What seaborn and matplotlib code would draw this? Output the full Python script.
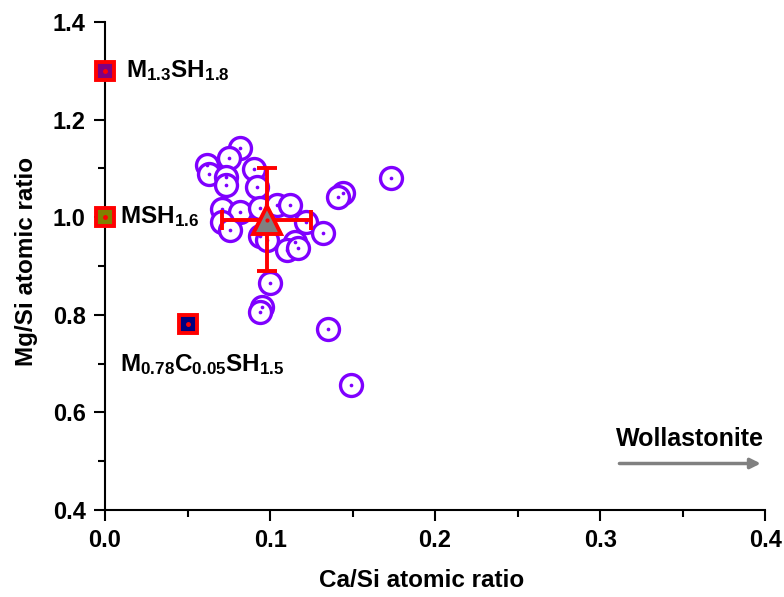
import matplotlib
matplotlib.use("Agg")
import matplotlib.pyplot as plt
import seaborn as sns
import pandas as pd

# ---- data ----
ca_si = [0.082, 0.075, 0.062, 0.063, 0.073, 0.073, 0.090, 0.092, 0.144, 0.141,
         0.173, 0.071, 0.082, 0.071, 0.076, 0.094, 0.104, 0.112, 0.122, 0.132,
         0.094, 0.098, 0.115, 0.110, 0.117, 0.100, 0.095, 0.094, 0.135, 0.149]
mg_si = [1.141, 1.122, 1.106, 1.089, 1.083, 1.067, 1.098, 1.061, 1.050, 1.042,
         1.081, 1.017, 1.011, 0.991, 0.974, 1.019, 1.024, 1.024, 0.991, 0.968,
         0.962, 0.954, 0.950, 0.933, 0.937, 0.866, 0.816, 0.806, 0.771, 0.656]

mean_ca, mean_mg = 0.098, 0.995
err_ca, err_mg = 0.027, 0.105

ref_names = [r"M$_{1.3}$SH$_{1.8}$", r"MSH$_{1.6}$", r"M$_{0.78}$C$_{0.05}$SH$_{1.5}$"]
ref_ca = [0.0, 0.0, 0.05]
ref_mg = [1.30, 1.00, 0.78]
ref_colors = ["#800080", "#808000", "#000080"]
label_pos = [(0.0125, 1.288), (0.009, 0.987), (0.009, 0.685)]

x_label = "Ca/Si atomic ratio"
y_label = "Mg/Si atomic ratio"
x_ticks = [0.0, 0.1, 0.2, 0.3, 0.4]
y_ticks = [0.4, 0.6, 0.8, 1.0, 1.2, 1.4]

# ---- style ----
sns.set_style("ticks")
plt.rcParams["font.family"] = ["Liberation Sans", "DejaVu Sans"]
plt.rcParams["font.weight"] = "bold"
plt.rcParams["text.color"] = "black"
plt.rcParams["axes.labelcolor"] = "black"
plt.rcParams["xtick.color"] = "black"
plt.rcParams["ytick.color"] = "black"
plt.rcParams["mathtext.fontset"] = "custom"
plt.rcParams["mathtext.rm"] = "Liberation Sans:bold"
plt.rcParams["mathtext.it"] = "Liberation Sans:bold"
plt.rcParams["mathtext.bf"] = "Liberation Sans:bold"

fig = plt.figure(figsize=(7.84, 5.97), dpi=100)
ax = fig.add_axes([0.134, 0.146, 0.842, 0.817])

purple = "#7F00FF"
df = pd.DataFrame({"ca": ca_si, "mg": mg_si})
sns.scatterplot(data=df, x="ca", y="mg", ax=ax, s=250, marker="o",
                facecolor="white", edgecolor=purple, linewidth=2.4, zorder=3)
sns.scatterplot(data=df, x="ca", y="mg", ax=ax, s=7, marker="o",
                color=purple, edgecolor=purple, linewidth=0, zorder=4)

# mean with error bars
ax.errorbar([mean_ca], [mean_mg], xerr=[err_ca], yerr=[err_mg], fmt="none",
            ecolor="red", elinewidth=2.8, capsize=7, capthick=2.8, zorder=5)
ax.plot([mean_ca], [mean_mg], marker="^", ms=20, mfc="#808080", mec="red",
        mew=2.8, linestyle="none", zorder=6)
ax.plot([mean_ca], [mean_mg], marker="o", ms=2, color="red", linestyle="none", zorder=7)

# reference phases
for cx, cy, col, name, (lx, ly) in zip(ref_ca, ref_mg, ref_colors, ref_names, label_pos):
    ax.plot([cx], [cy], marker="s", ms=13, mfc=col, mec="red", mew=2.8,
            linestyle="none", clip_on=False, zorder=6)
    ax.plot([cx], [cy], marker="o", ms=2.5, color="red", linestyle="none",
            clip_on=False, zorder=7)
    ax.text(lx, ly, name, fontsize=17.5, fontweight="bold", ha="left", va="baseline")

# wollastonite arrow
ax.annotate("", xy=(0.399, 0.495), xytext=(0.31, 0.495),
            arrowprops=dict(arrowstyle="-|>", color="#808080", lw=2.5,
                            mutation_scale=15), annotation_clip=False)
ax.text(0.3545, 0.545, "Wollastonite", fontsize=18, fontweight="bold",
        ha="center", va="center")

ax.set_xlim(0, 0.4)
ax.set_ylim(0.4, 1.4)
ax.set_xticks(x_ticks)
ax.set_yticks(y_ticks)
ax.set_xticks([0.05, 0.15, 0.25, 0.35], minor=True)
ax.set_yticks([0.5, 0.7, 0.9, 1.1, 1.3], minor=True)
ax.set_xticklabels([f"{v:.1f}" for v in x_ticks])
ax.set_yticklabels([f"{v:.1f}" for v in y_ticks])
ax.tick_params(axis="both", which="major", direction="out", length=8, width=1.5,
               labelsize=17, colors="black", pad=6)
ax.tick_params(axis="both", which="minor", direction="out", length=5, width=1.5,
               colors="black")
for lab in ax.get_xticklabels() + ax.get_yticklabels():
    lab.set_fontweight("bold")
ax.set_xlabel(x_label, fontsize=17.5, fontweight="bold")
ax.set_ylabel(y_label, fontsize=17.5, fontweight="bold")
ax.xaxis.set_label_coords(0.48, -0.122)
ax.yaxis.set_label_coords(-0.102, 0.51)
sns.despine(ax=ax)
for sp in ["left", "bottom"]:
    ax.spines[sp].set_linewidth(1.5)
    ax.spines[sp].set_color("black")

fig.savefig("out.png", dpi=100)
